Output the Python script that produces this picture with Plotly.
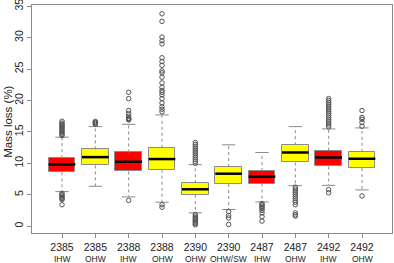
import plotly.graph_objects as go

# ---- data ----
sites = ["2385", "2385", "2388", "2388", "2390", "2390", "2487", "2487", "2492", "2492"]
types = ["IHW", "OHW", "IHW", "OHW", "OHW", "OHW/SW", "IHW", "OHW", "IHW", "OHW"]
box_colors = ["#FF0000", "#FFFF00", "#FF0000", "#FFFF00", "#FFFF00",
              "#FFFF00", "#FF0000", "#FFFF00", "#FF0000", "#FFFF00"]
q1 = [8.55, 9.66, 8.71, 8.98, 4.96, 6.70, 6.76, 10.14, 9.50, 9.24]
median = [9.82, 10.98, 10.24, 10.67, 5.86, 8.34, 7.87, 11.72, 10.93, 10.72]
q3 = [10.82, 12.20, 11.72, 12.46, 6.81, 9.40, 8.76, 12.88, 11.99, 11.83]
whisker_low = [5.49, 6.34, 4.65, 3.80, 2.11, 2.64, 3.85, 6.44, 6.49, 5.76]
whisker_high = [14.15, 15.84, 16.20, 17.70, 9.77, 12.94, 11.72, 15.84, 15.47, 15.63]
outliers = [
    [14.4, 14.6, 14.8, 15.0, 15.2, 15.4, 15.6, 15.8, 16.0, 16.2, 16.4, 16.7,
     5.2, 5.0, 4.8, 4.6, 4.4, 4.2, 3.4],
    [16.2, 16.35, 16.5, 16.65],
    [16.9, 17.0, 17.1, 17.2, 17.5, 17.95, 18.4, 20.3, 21.3, 4.1],
    [18.2, 18.6, 19.0, 19.6, 20.3, 20.9, 21.3, 21.6, 22.1, 22.8, 23.7, 24.4,
     24.7, 25.6, 26.2, 26.8, 29.0, 29.5, 30.1, 32.6, 33.8, 3.4, 3.0],
    [10.0, 10.3, 10.6, 10.9, 11.2, 11.5, 11.8, 12.1, 12.4, 12.7, 13.0, 13.3,
     1.85, 1.6, 1.4, 1.2, 1.0, 0.8, 0.6, 0.4, 0.2],
    [2.3, 1.7, 1.3, 0.26],
    [3.6, 3.4, 3.2, 3.0, 2.8, 2.5, 2.1, 1.5, 0.8],
    [6.2, 5.9, 5.6, 5.3, 5.0, 4.7, 4.4, 4.1, 3.8, 3.4, 2.1, 1.8, 1.6],
    [15.8, 16.1, 16.4, 16.7, 17.0, 17.3, 17.6, 17.9, 18.2, 18.5, 18.8, 19.1,
     19.4, 19.7, 20.0, 20.3, 5.8, 5.3],
    [15.9, 16.5, 17.0, 17.3, 18.4, 4.8],
]
y_ticks = [0, 5, 10, 15, 20, 25, 30, 35]

LINE = "#8a8a8a"
idx = list(range(len(sites)))

fig = go.Figure()

# boxes
fig.add_trace(go.Bar(
    x=idx, y=[b - a for a, b in zip(q1, q3)], base=q1, width=0.8,
    marker=dict(color=box_colors, line=dict(color=LINE, width=1)),
    showlegend=False, hoverinfo="skip"))

# whiskers (dashed)
wx, wy = [], []
for i in idx:
    wx += [i, i, None, i, i, None]
    wy += [q3[i], whisker_high[i], None, q1[i], whisker_low[i], None]
fig.add_trace(go.Scatter(x=wx, y=wy, mode="lines",
                         line=dict(color=LINE, width=1, dash="dot"),
                         showlegend=False, hoverinfo="skip"))

# staples
sx, sy = [], []
for i in idx:
    sx += [i - 0.2, i + 0.2, None, i - 0.2, i + 0.2, None]
    sy += [whisker_high[i], whisker_high[i], None, whisker_low[i], whisker_low[i], None]
fig.add_trace(go.Scatter(x=sx, y=sy, mode="lines",
                         line=dict(color=LINE, width=1),
                         showlegend=False, hoverinfo="skip"))

# medians
mx, my = [], []
for i in idx:
    mx += [i - 0.4, i + 0.4, None]
    my += [median[i], median[i], None]
fig.add_trace(go.Scatter(x=mx, y=my, mode="lines",
                         line=dict(color="black", width=2.5),
                         showlegend=False, hoverinfo="skip"))

# outliers
ox, oy = [], []
for i in idx:
    for v in outliers[i]:
        ox.append(i)
        oy.append(v)
fig.add_trace(go.Scatter(x=ox, y=oy, mode="markers",
                         marker=dict(symbol="circle-open", size=4.5,
                                     color="#555555", line=dict(width=1)),
                         showlegend=False, hoverinfo="skip"))

plot_h = 263 - 5 - 30
annots = []
for i, t in enumerate(types):
    annots.append(dict(x=i, y=-25.5 / plot_h, xref="x", yref="paper", text=t,
                       showarrow=False, yanchor="middle", xanchor="center",
                       font=dict(size=8.5, color="#222222")))
annots.append(dict(x=-(32.5 - 8.3) / 359.5, y=(233 - 122) / plot_h,
                   xref="paper", yref="paper", text="Mass loss (%)",
                   textangle=-90, showarrow=False, xanchor="center",
                   yanchor="middle", font=dict(size=11.5, color="#222222")))

fig.update_layout(
    width=394, height=263,
    margin=dict(l=32, r=2, t=5, b=30),
    plot_bgcolor="white", paper_bgcolor="white",
    font=dict(family="Liberation Sans, Arial, sans-serif", size=11, color="#222222"),
    bargap=0,
    annotations=annots,
    xaxis=dict(range=[-0.9, 9.9], tickvals=idx, ticktext=sites,
               showgrid=False, zeroline=False, showline=True, linecolor=LINE,
               linewidth=1, mirror=True, ticks="outside", ticklen=4,
               tickcolor=LINE, tickfont=dict(size=10.5), automargin=False),
    yaxis=dict(range=[-1.1, 35.2], tickvals=y_ticks,
               showgrid=False, zeroline=False, showline=True, linecolor=LINE,
               linewidth=1, mirror=True, ticks="outside", ticklen=4,
               tickcolor=LINE, tickangle=-90, tickfont=dict(size=10.5),
               automargin=False, ticklabeloverflow="allow"),
)

fig.write_html("out.html",
               config={"displayModeBar": False},
               post_script="document.body.style.margin='0';document.body.style.overflow='hidden';")
